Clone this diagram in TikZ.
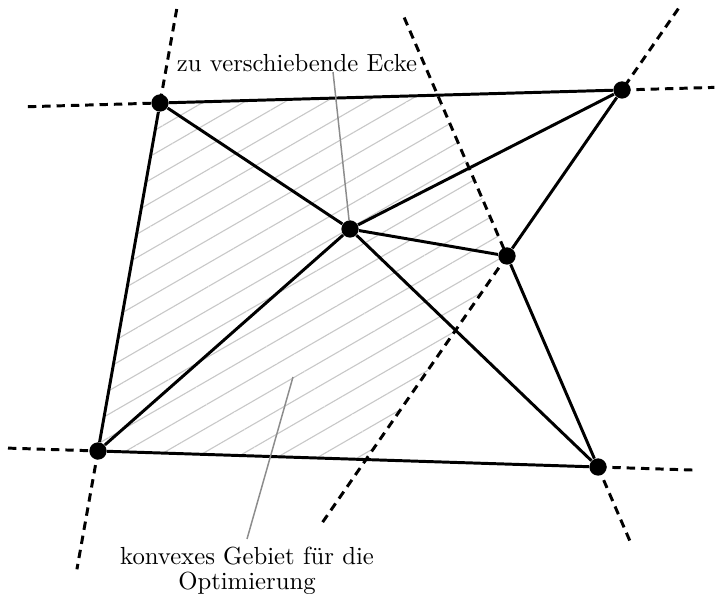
\documentclass[tikz,border=0pt]{standalone}
\usepackage{tikz}
\usetikzlibrary{calc, backgrounds, patterns.meta}
\definecolor{hatchgray}{RGB}{200, 200, 200}
\definecolor{pointergray}{RGB}{140, 140, 140}

\begin{document}
\begin{tikzpicture}[
    x=0.01422cm, y=-0.01422cm,
    vertex/.style={circle, fill=black, inner sep=0pt, minimum size=7pt},
    edge/.style={line width=1.2pt},
    extension/.style={line width=1.2pt, dash pattern=on 3.4pt off 2.4pt},
    region/.style={pattern={Lines[angle=30, distance=8.2pt, line width=0.45pt]}, pattern color=hatchgray},
    pointer/.style={draw=pointergray, line width=0.6pt},
    caption/.style={font=\normalsize, align=center, inner sep=0pt}
]
    \useasboundingbox (0,0) rectangle (719,594);

    % Ecken des Netzes
    \node[vertex] (nw) at (160,103) {};
    \node[vertex] (ne) at (622,90) {};
    \node[vertex] (ecke) at (350,229) {};
    \node[vertex] (east) at (507,256) {};
    \node[vertex] (sw) at (98,451) {};
    \node[vertex] (se) at (598,467) {};

    % zulaessiges Gebiet
    \begin{scope}[on background layer]
        \fill[region] (nw.center) -- (intersection of nw--ne and east--se)
            -- (east.center) -- (intersection of ne--east and sw--se)
            -- (sw.center) -- cycle;
    \end{scope}

    % Verlaengerungen der Randkanten
    \draw[extension] ($(nw)!-0.286!(ne)$) -- (nw.center);
    \draw[extension] (ne.center) -- ($(ne)!-0.2!(nw)$);
    \draw[extension] ($(nw)!-0.27!(sw)$) -- (nw.center);
    \draw[extension] (sw.center) -- ($(sw)!-0.34!(nw)$);
    \draw[extension] ($(sw)!-0.18!(se)$) -- (sw.center);
    \draw[extension] (se.center) -- ($(se)!-0.2!(sw)$);
    \draw[extension] ($(east)!-1.13!(se)$) -- (east.center);
    \draw[extension] (se.center) -- ($(se)!-0.37!(east)$);
    \draw[extension] ($(ne)!-0.49!(east)$) -- (ne.center);
    \draw[extension] (east.center) -- ($(east)!-1.63!(ne)$);

    % Kanten
    \draw[edge] (nw) -- (ne);
    \draw[edge] (nw) -- (sw);
    \draw[edge] (sw) -- (se);
    \draw[edge] (ne) -- (east);
    \draw[edge] (east) -- (se);
    \draw[edge] (ecke) -- (nw);
    \draw[edge] (ecke) -- (ne);
    \draw[edge] (ecke) -- (east);
    \draw[edge] (ecke) -- (sw);
    \draw[edge] (ecke) -- (se);

    % Beschriftungen
    \node[caption, anchor=base] (ecketext) at (297,72) {zu verschiebende Ecke};
    \draw[pointer] ($(ecketext.base)+(36,0)$) -- (ecke);

    \node[caption, anchor=north] (gebiettext) at (247,547) {konvexes Gebiet f\"ur die\\[-2pt]Optimierung};
    \coordinate (gebietpunkt) at (293,377);
    \draw[pointer] ($(gebiettext.north)+(0,-8)$) -- (gebietpunkt);
\end{tikzpicture}
\end{document}
